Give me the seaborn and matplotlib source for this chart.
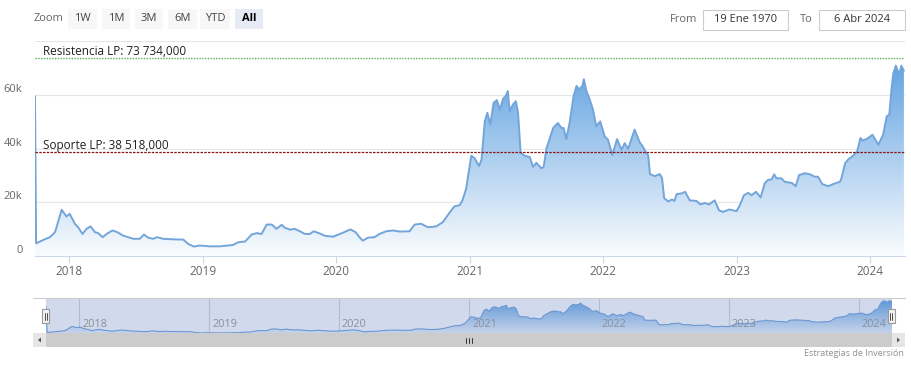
import numpy as np
import pandas as pd
import matplotlib
matplotlib.use("Agg")
import matplotlib.pyplot as plt
import matplotlib.dates as mdates
from matplotlib.patches import Rectangle, Polygon
from matplotlib.lines import Line2D
import seaborn as sns

# ---------------- data ----------------
dates = [
    "2017-09-29", "2017-10-02", "2017-10-22", "2017-11-09", "2017-11-23", "2017-12-11", "2017-12-24",
    "2018-01-02", "2018-01-16", "2018-01-25", "2018-02-06", "2018-02-17", "2018-02-28", "2018-03-12",
    "2018-03-21", "2018-04-02", "2018-04-13", "2018-04-29", "2018-05-12", "2018-05-28", "2018-06-11",
    "2018-06-25", "2018-07-13", "2018-07-24", "2018-08-05", "2018-08-18", "2018-08-29", "2018-09-15",
    "2018-10-12", "2018-11-09", "2018-11-22", "2018-12-08", "2018-12-24", "2019-01-21", "2019-02-17",
    "2019-03-25", "2019-04-08", "2019-04-27", "2019-05-15", "2019-05-29", "2019-06-11", "2019-06-25",
    "2019-07-09", "2019-07-22", "2019-08-05", "2019-08-14", "2019-08-28", "2019-09-10", "2019-09-24",
    "2019-10-08", "2019-10-21", "2019-11-01", "2019-11-13", "2019-12-02", "2019-12-24", "2020-01-11",
    "2020-01-24", "2020-02-09", "2020-02-23", "2020-03-05", "2020-03-14", "2020-03-28", "2020-04-15",
    "2020-04-29", "2020-05-17", "2020-06-05", "2020-06-23", "2020-07-20", "2020-08-03", "2020-08-21",
    "2020-09-08", "2020-10-01", "2020-10-19", "2020-11-07", "2020-11-20", "2020-12-04", "2020-12-12",
    "2020-12-22", "2021-01-05", "2021-01-14", "2021-01-26", "2021-02-02", "2021-02-11", "2021-02-18",
    "2021-02-26", "2021-03-07", "2021-03-16", "2021-03-24", "2021-04-02", "2021-04-09", "2021-04-15",
    "2021-04-20", "2021-04-29", "2021-05-07", "2021-05-13", "2021-05-20", "2021-05-31", "2021-06-14",
    "2021-06-23", "2021-07-02", "2021-07-16", "2021-07-22", "2021-07-30", "2021-08-08", "2021-08-17",
    "2021-08-30", "2021-09-09", "2021-09-15", "2021-09-22", "2021-10-01", "2021-10-12", "2021-10-20",
    "2021-10-27", "2021-11-05", "2021-11-09", "2021-11-16", "2021-11-25", "2021-12-04", "2021-12-13",
    "2021-12-24", "2022-01-05", "2022-01-14", "2022-01-26", "2022-02-08", "2022-02-20", "2022-03-01",
    "2022-03-10", "2022-03-28", "2022-04-11", "2022-04-20", "2022-04-29", "2022-05-04", "2022-05-09",
    "2022-05-22", "2022-06-05", "2022-06-11", "2022-06-17", "2022-06-28", "2022-07-08", "2022-07-15",
    "2022-07-21", "2022-08-04", "2022-08-13", "2022-08-26", "2022-09-13", "2022-09-24", "2022-10-06",
    "2022-10-18", "2022-11-02", "2022-11-14", "2022-11-25", "2022-12-12", "2023-01-01", "2023-01-10",
    "2023-01-21", "2023-02-02", "2023-02-11", "2023-02-23", "2023-03-08", "2023-03-19", "2023-03-28",
    "2023-04-07", "2023-04-14", "2023-04-20", "2023-05-04", "2023-05-13", "2023-06-01", "2023-06-12",
    "2023-06-21", "2023-07-07", "2023-07-21", "2023-08-03", "2023-08-12", "2023-08-24", "2023-09-09",
    "2023-09-27", "2023-10-11", "2023-10-15", "2023-10-25", "2023-11-03", "2023-11-16", "2023-11-27",
    "2023-12-06", "2023-12-12", "2023-12-23", "2024-01-08", "2024-01-24", "2024-02-06", "2024-02-16",
    "2024-02-23", "2024-02-29", "2024-03-05", "2024-03-12", "2024-03-21", "2024-03-27", "2024-04-03",
]
prices = [
    59500, 4700, 6000, 7000, 8900, 17200, 14700,
    15700, 12000, 10700, 8200, 10100, 11000, 8900,
    8500, 7000, 8200, 9500, 8900, 7600, 7000,
    6400, 6400, 8000, 6800, 6400, 7000, 6400,
    6200, 6100, 4500, 3500, 3900, 3600, 3600,
    4100, 5100, 5400, 8000, 8500, 8200, 11700,
    11700, 10100, 11600, 10500, 9800, 10100, 9200,
    8200, 8200, 9200, 8600, 7500, 7200, 8200,
    8900, 9900, 8900, 7000, 5700, 6800, 7000,
    8200, 9200, 9500, 9100, 9200, 11700, 12000,
    10700, 11000, 12600, 16200, 18500, 18900, 20700,
    25100, 37300, 36400, 33500, 35800, 50100, 53300,
    48900, 57000, 58000, 54500, 58500, 59500, 61400,
    53900, 56400, 57600, 53300, 38500, 37300, 36800,
    33200, 34700, 32600, 33200, 40100, 43900, 47600,
    49500, 47600, 47600, 43500, 49500, 59500, 63300,
    62000, 63300, 65800, 61400, 58300, 54500, 48300,
    50100, 44500, 43300, 37600, 43500, 39500, 42000,
    39800, 47000, 42300, 40600, 38300, 37600, 30500,
    29700, 30500, 29000, 21500, 20300, 21000, 20500,
    23000, 23300, 23900, 20700, 20500, 19200, 19700,
    19200, 20700, 17000, 16400, 17300, 16700, 18900,
    22600, 23500, 22600, 23900, 21800, 27000, 28300,
    28500, 30400, 28900, 28900, 27600, 27200, 26000,
    30100, 30800, 30400, 29500, 29500, 26700, 26000,
    27000, 27600, 28900, 34500, 36000, 37300, 38900,
    43900, 43000, 43500, 45100, 41400, 45100, 52000,
    52600, 62000, 68000, 70800, 67600, 70800, 68900,
]
resistance_value = 73734
support_value = 38518
resistance_label = "Resistencia LP: 73 734,000"
support_label = "Soporte LP: 38 518,000"
y_ticks = [0, 20000, 40000, 60000, 80000]
y_tick_labels = ["0", "20k", "40k", "60k", ""]
year_ticks = [2018, 2019, 2020, 2021, 2022, 2023, 2024]
zoom_buttons = ["1W", "1M", "3M", "6M", "YTD", "All"]
from_date = "19 Ene 1970"
to_date = "6 Abr 2024"
credit = "Estrategias de Inversión"

df = pd.DataFrame({"date": pd.to_datetime(dates), "price": prices})

# ---------------- style ----------------
sns.set_theme(style="white")
plt.rcParams["font.family"] = ["Open Sans", "DejaVu Sans"]

W, H = 912, 366
def fx(x): return x / W
def fy(y): return 1 - y / H

fig = plt.figure(figsize=(W / 100, H / 100), dpi=100)
fig.patch.set_facecolor("white")

LINE_C = "#74a5da"
FILL_C = np.array([92, 159, 224]) / 255.0

def gradient_fill(ax, xnum, y, ybot, ytop, vmax, zorder, amin=0.03):
    poly = ax.fill_between(xnum, y, ybot, facecolor="none", edgecolor="none")
    n = 300
    v = np.linspace(ybot, ytop, n)
    a = np.clip(amin + (1 - amin) * (v - ybot) / (vmax - ybot), 0, 1)
    img = np.ones((n, 2, 4))
    for k in range(3):
        img[:, :, k] = (1 - a[:, None]) + a[:, None] * FILL_C[k]
    im = ax.imshow(img, extent=[xnum.min(), xnum.max(), ybot, ytop], origin="lower",
                   aspect="auto", zorder=zorder, interpolation="bilinear")
    im.set_clip_path(poly.get_paths()[0], transform=ax.transData)

xnum = mdates.date2num(df["date"])
x_start = df["date"].iloc[0]
x_end = pd.Timestamp("2024-04-06")

# ---------------- main chart ----------------
ax = fig.add_axes([fx(35), fy(256), (905 - 35) / W, (256 - 41) / H])
ax.set_facecolor("white")
sns.lineplot(data=df, x="date", y="price", ax=ax, color=LINE_C, linewidth=1.4,
             estimator=None, sort=False, zorder=4)
gradient_fill(ax, xnum, df["price"].values, 0, 80000, 75000, zorder=2)
ax.set_xlim(x_start, x_end)
ax.set_ylim(0, 80000)

ax.set_yticks(y_ticks)
ax.set_yticklabels(y_tick_labels)
ax.yaxis.grid(True, color="#e6e6e6", linewidth=0.8)
ax.xaxis.grid(False)
ax.set_axisbelow(True)
for lab in ax.get_yticklabels():
    lab.set_verticalalignment("bottom")
ax.tick_params(axis="y", length=0, pad=9, labelsize=8, labelcolor="#666666")

xt = [pd.Timestamp(f"{y}-01-01") for y in year_ticks]
ax.set_xticks(xt)
ax.set_xticklabels([str(y) for y in year_ticks])
ax.tick_params(axis="x", length=5, width=0.8, color="#ccd6eb", direction="out",
               pad=1.5, labelsize=8.5, labelcolor="#666666", bottom=True)
for s in ["top", "right", "left"]:
    ax.spines[s].set_visible(False)
ax.spines["bottom"].set_color("#ccd6eb")
ax.spines["bottom"].set_linewidth(0.8)
ax.set_xlabel("")
ax.set_ylabel("")

ax.axhline(resistance_value, color="#5cae5c", linewidth=1.0, linestyle=(0, (1, 1)), zorder=5)
ax.axhline(support_value, color="#8b1010", linewidth=0.9, linestyle=(0, (2, 1)), zorder=5)
ax.annotate(resistance_label, xy=(0, resistance_value), xycoords=("axes fraction", "data"),
            xytext=(6, 0), textcoords="offset points", fontsize=8.5, color="#222222",
            ha="left", va="bottom", zorder=6)
ax.annotate(support_label, xy=(0, support_value), xycoords=("axes fraction", "data"),
            xytext=(6, 0), textcoords="offset points", fontsize=8.5, color="#222222",
            ha="left", va="bottom", zorder=6)

# ---------------- navigator ----------------
nav = fig.add_axes([fx(46), fy(333), (892 - 46) / W, (333 - 298) / H])
nav.set_facecolor("white")
sns.lineplot(data=df, x="date", y="price", ax=nav, color="#6f9fd8", linewidth=0.8,
             estimator=None, sort=False, zorder=4)
gradient_fill(nav, xnum, df["price"].values, 3400, 76500, 72000, zorder=2, amin=0.1)
nav.set_xlim(x_start, df["date"].iloc[-1])
nav.set_ylim(3400, 76500)
nav.set_xticks([])
nav.set_yticks([])
nav.set_xlabel("")
nav.set_ylabel("")
for s in nav.spines.values():
    s.set_visible(False)
for t in xt:
    nav.axvline(t, color="#d4d4d4", linewidth=0.8, zorder=1)
nav.add_patch(Rectangle((0, 0), 1, 1, transform=nav.transAxes,
                        facecolor=(102 / 255, 133 / 255, 194 / 255, 0.3),
                        edgecolor="none", zorder=6))
for t, y in zip(xt, year_ticks):
    nav.annotate(str(y), xy=(t, 0), xycoords=("data", "axes fraction"),
                 xytext=(2, 2), textcoords="offset points", fontsize=7.8,
                 color="#8a8f99", ha="left", va="bottom", zorder=7)

fig.add_artist(Line2D([fx(33), fx(905)], [fy(298), fy(298)], color="#cccccc", linewidth=0.8))

def frect(x0, y0, x1, y1, **kw):
    fig.add_artist(Rectangle((fx(x0), fy(y1)), (x1 - x0) / W, (y1 - y0) / H,
                             transform=fig.transFigure, **kw))

# handles
for hx in (46, 891.5):
    frect(hx - 3.5, 309, hx + 3.5, 323, facecolor="#f2f2f2", edgecolor="#999999", linewidth=0.8, zorder=10)
    for dx in (-1, 1):
        fig.add_artist(Line2D([fx(hx + dx), fx(hx + dx)], [fy(312.5), fy(319.5)],
                              color="#333333", linewidth=0.6, zorder=11))

# scrollbar
frect(33, 333, 905, 347, facecolor="#f2f2f2", edgecolor="none", zorder=3)
frect(46, 333, 892, 347, facecolor="#cccccc", edgecolor="none", zorder=4)
frect(33, 333, 46, 347, facecolor="#e6e6e6", edgecolor="none", zorder=4)
frect(892, 333, 905, 347, facecolor="#e6e6e6", edgecolor="none", zorder=4)
fig.add_artist(Polygon([[fx(38), fy(340)], [fx(41), fy(337.5)], [fx(41), fy(342.5)]],
                       closed=True, transform=fig.transFigure, facecolor="#555555",
                       edgecolor="none", zorder=5))
fig.add_artist(Polygon([[fx(900), fy(340)], [fx(897), fy(337.5)], [fx(897), fy(342.5)]],
                       closed=True, transform=fig.transFigure, facecolor="#555555",
                       edgecolor="none", zorder=5))
for rx in (466.5, 469, 471.5):
    fig.add_artist(Line2D([fx(rx), fx(rx)], [fy(337.5), fy(342.5)], color="#333333",
                          linewidth=0.7, zorder=6))

fig.text(fx(904), fy(353), credit, ha="right", va="center", fontsize=6.5, color="#909090")

# ---------------- top range selector ----------------
fig.text(fx(34), fy(18.5), "Zoom", ha="left", va="center", fontsize=8, color="#666666")
btn_x = [(68, 97), (102, 130), (135, 163), (168, 197), (200, 230), (235, 263)]
for label, (x0, x1) in zip(zoom_buttons, btn_x):
    active = label == "All"
    frect(x0, 8.5, x1, 28.5, facecolor="#e6ebf5" if active else "#f7f7f7", edgecolor="none")
    fig.text(fx((x0 + x1) / 2), fy(18.5), label, ha="center", va="center", fontsize=8,
             color="#000000" if active else "#444444", fontweight="bold" if active else "normal")

fig.text(fx(670), fy(19), "From", ha="left", va="center", fontsize=8, color="#666666")
frect(703, 9.5, 788, 29.5, facecolor="white", edgecolor="#cccccc", linewidth=0.8)
fig.text(fx(745.5), fy(19.5), from_date, ha="center", va="center", fontsize=8, color="#333333")
fig.text(fx(800), fy(19), "To", ha="left", va="center", fontsize=8, color="#666666")
frect(819, 9.5, 905, 29.5, facecolor="white", edgecolor="#cccccc", linewidth=0.8)
fig.text(fx(862), fy(19.5), to_date, ha="center", va="center", fontsize=8, color="#333333")

fig.savefig("out.png", dpi=100, facecolor="white")
